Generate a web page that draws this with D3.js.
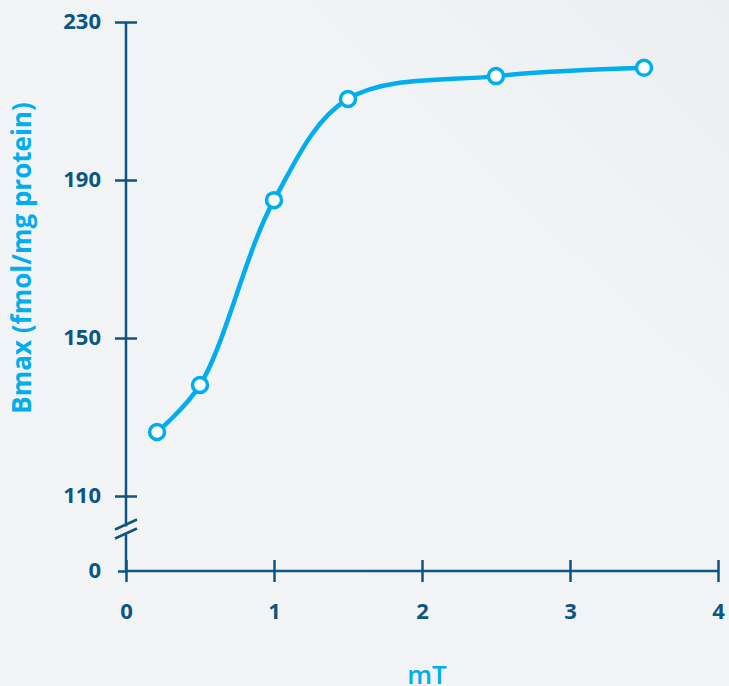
<!DOCTYPE html>
<html>
<head>
<meta charset="utf-8">
<script src="https://cdn.jsdelivr.net/npm/d3@7"></script>
<style>
  body { margin: 0; background: #f2f3f5; }
  svg { display: block; font-family: "Open Sans", sans-serif; }
</style>
</head>
<body>
<div id="chart"></div>
<script>
const x_values = [0.21, 0.5, 1, 1.5, 2.5, 3.5];
const bmax_values = [126.2, 138.1, 184.9, 210.5, 216.3, 218.4];
const x_ticks = [0, 1, 2, 3, 4];
const y_ticks = [0, 110, 150, 190, 230];

const W = 729, H = 686;
const axis_color = "#0b5683";
const line_color = "#00aeef";

const svg = d3.select("#chart").append("svg")
    .attr("width", W)
    .attr("height", H);

// soft background
const defs = svg.append("defs");
const grad = defs.append("linearGradient")
    .attr("id", "bg")
    .attr("x1", "0").attr("y1", "1").attr("x2", "1").attr("y2", "0");
grad.append("stop").attr("offset", "0%").attr("stop-color", "#f3f4f6");
grad.append("stop").attr("offset", "70%").attr("stop-color", "#f1f3f5");
grad.append("stop").attr("offset", "100%").attr("stop-color", "#eceeef");
svg.append("rect").attr("width", W).attr("height", H).attr("fill", "url(#bg)");

const x = d3.scaleLinear().domain([0, 4]).range([126, 718]);
// broken axis: 0 sits below the break, 110..230 above it
const y = d3.scaleLinear().domain([0, 110, 230]).range([571, 496, 22]);

const data = x_values.map((d, i) => ({ x: d, y: bmax_values[i] }));

// y axis ticks
const g_y = svg.append("g")
    .attr("transform", `translate(${x(0)},0)`)
    .call(d3.axisLeft(y).tickValues(y_ticks).tickSize(11).tickFormat(d3.format("d")));
g_y.select(".domain").remove();
g_y.selectAll(".tick line")
    .attr("stroke", axis_color)
    .attr("stroke-width", 2.5)
    .attr("x1", d => d === 0 ? 0 : 11)
    .attr("x2", d => d === 0 ? -8 : -11);
g_y.selectAll(".tick text")
    .attr("fill", axis_color)
    .attr("font-size", 22)
    .attr("font-weight", 700)
    .attr("font-family", "Open Sans, sans-serif")
    .attr("x", -25)
    .attr("dy", "0.28em");

// y axis line with break
const y_break = (y(0) + y(110)) / 2;
svg.append("line")
    .attr("x1", x(0)).attr("x2", x(0))
    .attr("y1", y(230)).attr("y2", y_break - 7)
    .attr("stroke", axis_color).attr("stroke-width", 2.5);
svg.append("line")
    .attr("x1", x(0)).attr("x2", x(0))
    .attr("y1", y_break + 1).attr("y2", y(0))
    .attr("stroke", axis_color).attr("stroke-width", 2.5);
[-9, 0].forEach(off => {
    svg.append("line")
        .attr("x1", x(0) - 11).attr("y1", y_break + off + 5)
        .attr("x2", x(0) + 11).attr("y2", y_break + off - 5)
        .attr("stroke", axis_color).attr("stroke-width", 2.5);
});

// x axis
const g_x = svg.append("g")
    .attr("transform", `translate(0,${y(0)})`)
    .call(d3.axisBottom(x).tickValues(x_ticks).tickSize(11).tickPadding(21).tickFormat(d3.format("d")));
g_x.select(".domain")
    .attr("stroke", axis_color)
    .attr("stroke-width", 2.5)
    .attr("d", `M${x(0)},0H${x(4)}`);
g_x.selectAll(".tick line")
    .attr("stroke", axis_color)
    .attr("stroke-width", 2.5)
    .attr("y1", -11);
g_x.selectAll(".tick text")
    .attr("fill", axis_color)
    .attr("font-size", 22)
    .attr("font-weight", 700)
    .attr("font-family", "Open Sans, sans-serif");

// curve
svg.append("path")
    .datum(data)
    .attr("fill", "none")
    .attr("stroke", line_color)
    .attr("stroke-width", 4.5)
    .attr("stroke-linecap", "round")
    .attr("d", d3.line()
        .x(d => x(d.x))
        .y(d => y(d.y))
        .curve(d3.curveCatmullRom.alpha(0.5)));

svg.append("g")
    .selectAll("circle")
    .data(data)
    .enter().append("circle")
    .attr("cx", d => x(d.x))
    .attr("cy", d => y(d.y))
    .attr("r", 7.5)
    .attr("fill", "#fff")
    .attr("stroke", line_color)
    .attr("stroke-width", 3.5);

// axis titles
svg.append("text")
    .attr("transform", `translate(31,258) rotate(-90)`)
    .attr("text-anchor", "middle")
    .attr("fill", line_color)
    .style("font-size", "26px")
    .style("font-weight", 700)
    .text("Bmax (fmol/mg protein)");

svg.append("text")
    .attr("x", 427)
    .attr("y", 684)
    .attr("text-anchor", "middle")
    .attr("fill", line_color)
    .style("font-size", "26px")
    .style("font-weight", 600)
    .text("mT");
</script>
</body>
</html>
